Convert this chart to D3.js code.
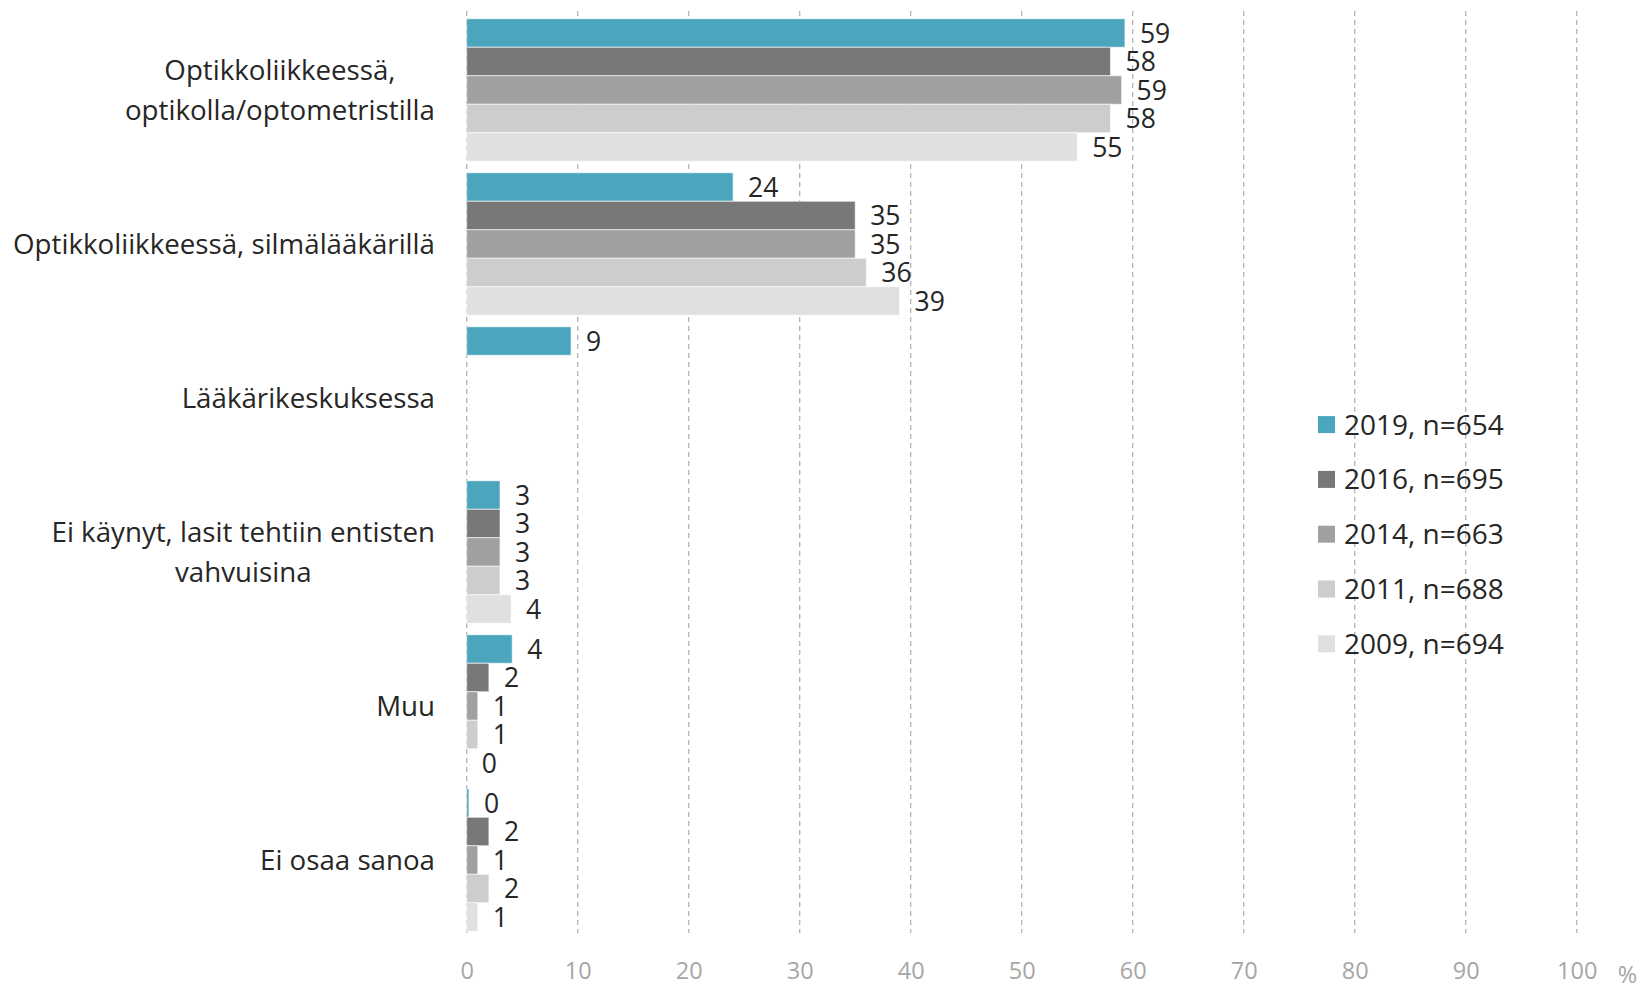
<!DOCTYPE html>
<html>
<head>
<meta charset="utf-8">
<script src="https://cdn.jsdelivr.net/npm/d3@7"></script>
<style>
  body { margin: 0; background: #fff; }
  text { font-family: "Open Sans", "Noto Sans", sans-serif; }
</style>
</head>
<body>
<script>
const categories = [
    ["Optikkoliikkeessä,", "optikolla/optometristilla"],
    ["Optikkoliikkeessä, silmälääkärillä"],
    ["Lääkärikeskuksessa"],
    ["Ei käynyt, lasit tehtiin entisten", "vahvuisina"],
    ["Muu"],
    ["Ei osaa sanoa"]
];
const years = ["2019, n=654", "2016, n=695", "2014, n=663", "2011, n=688", "2009, n=694"];
const colors = ["#4ba6bd", "#787878", "#a0a0a0", "#cdcdcd", "#e0e0e0"];

// one row per category, one value per year (null = not asked that year)
const v2019 = [59.3, 24.0, 9.4, 3.0, 4.1, 0.2];
const v2016 = [58.0, 35.0, null, 3.0, 2.0, 2.0];
const v2014 = [59.0, 35.0, null, 3.0, 1.0, 1.0];
const v2011 = [58.0, 36.0, null, 3.0, 1.0, 2.0];
const v2009 = [55.0, 39.0, null, 4.0, 0.0, 1.0];
const series = [v2019, v2016, v2014, v2011, v2009];

const xTicks = [0, 10, 20, 30, 40, 50, 60, 70, 80, 90, 100];

const W = 1652, H = 994;
const svg = d3.select("body").append("svg")
    .attr("width", W)
    .attr("height", H);

const x = d3.scaleLinear().domain([0, 100]).range([466.7, 1576.7]);
const catIdx = d3.range(categories.length);
const y0 = d3.scaleBand().domain(catIdx).range([13, 937])
    .paddingInner(0.075).paddingOuter(0.0375);
const y1 = d3.scaleBand().domain(d3.range(years.length)).range([0, y0.bandwidth()]);

// dashed grid
svg.append("g")
    .selectAll("line")
    .data(xTicks)
    .enter().append("line")
    .attr("x1", d => x(d)).attr("x2", d => x(d))
    .attr("y1", 11).attr("y2", 933)
    .attr("stroke", "#b4b4b4")
    .attr("stroke-width", 1.3)
    .attr("stroke-dasharray", "5,4");

// axis labels
const axis = svg.append("g")
    .attr("transform", "translate(0,962)")
    .call(d3.axisBottom(x).tickValues(xTicks).tickSize(0).tickPadding(0));
axis.select(".domain").remove();
axis.selectAll("text")
    .attr("fill", "#a6a6a6")
    .style("font-size", "23.5px")
    .style("font-family", "'Open Sans', sans-serif");

svg.append("text")
    .attr("x", x(100) + 41)
    .attr("y", 983)
    .attr("fill", "#a6a6a6")
    .style("font-size", "23.5px")
    .text("%");

// bars
const groups = svg.append("g")
    .selectAll("g")
    .data(catIdx)
    .enter().append("g")
    .attr("transform", i => "translate(0," + y0(i) + ")");

const cells = groups.selectAll("g")
    .data(i => series.map((s, k) => ({ k: k, v: s[i] })).filter(d => d.v !== null))
    .enter().append("g");

cells.append("rect")
    .attr("x", x(0))
    .attr("y", d => y1(d.k))
    .attr("width", d => x(d.v) - x(0))
    .attr("height", y1.bandwidth())
    .attr("fill", d => colors[d.k])
    .attr("stroke", "#ffffff")
    .attr("stroke-opacity", 0.6)
    .attr("stroke-width", 1);

cells.append("text")
    .attr("x", d => x(d.v) + 15)
    .attr("y", d => y1(d.k) + y1.bandwidth() / 2)
    .attr("dy", "0.36em")
    .attr("fill", "#262626")
    .style("font-size", "26.5px")
    .text(d => d3.format(".0f")(d.v));

// category labels, lines centred on each other and right aligned as a block
const labels = svg.append("g")
    .selectAll("text")
    .data(catIdx)
    .enter().append("text")
    .attr("fill", "#262626")
    .style("font-size", "27.7px")
    .attr("text-anchor", "middle");

labels.each(function (i) {
    const t = d3.select(this);
    const lines = categories[i];
    const lh = 40;
    const cy = y0(i) + y0.bandwidth() / 2;
    lines.forEach((l, j) => {
        t.append("tspan")
            .attr("y", cy + (j - (lines.length - 1) / 2) * lh)
            .attr("dy", "0.36em")
            .text(l);
    });
    let maxW = 0;
    t.selectAll("tspan").each(function () {
        maxW = Math.max(maxW, this.getComputedTextLength());
    });
    t.selectAll("tspan").attr("x", 435 - maxW / 2);
});

// legend
const legend = svg.append("g")
    .selectAll("g")
    .data(years)
    .enter().append("g")
    .attr("transform", (d, i) => "translate(1318," + (424.6 + i * 54.8) + ")");

legend.append("rect")
    .attr("x", 0).attr("y", -8.5)
    .attr("width", 17).attr("height", 17)
    .attr("fill", (d, i) => colors[i]);

legend.append("text")
    .attr("x", 26)
    .attr("dy", "0.36em")
    .attr("fill", "#262626")
    .style("font-size", "28px")
    .text(d => d);
</script>
</body>
</html>
